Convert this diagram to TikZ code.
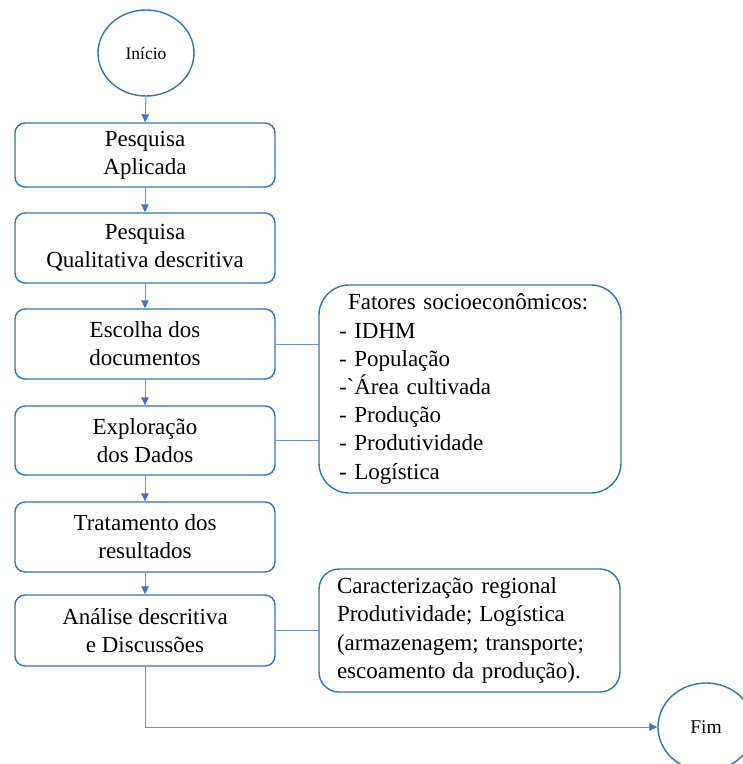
\documentclass[tikz,border=0pt]{standalone}
\usepackage{fontspec}
\setmainfont{Liberation Serif}
\newfontfamily\rawserif{Liberation Serif}
\usetikzlibrary{shapes.geometric,arrows.meta}
\definecolor{boxblue}{HTML}{2E75B6}
\definecolor{arrowblue}{HTML}{4472C4}
\definecolor{lineblue}{HTML}{6A8FD3}
\tikzset{
  stepbox/.style={draw=boxblue, line width=1.4pt, rounded corners=10pt, rectangle,
    minimum width=260pt, inner sep=0pt, align=center,
    font=\fontsize{23}{28}\selectfont},
  termnode/.style={draw=boxblue, line width=1.4pt, ellipse, inner sep=0pt,
    minimum width=96pt},
  notebox/.style={draw=boxblue, line width=1.4pt, rectangle, align=left,
    font=\fontsize{23}{28.2}\selectfont, anchor=center},
  flow/.style={draw=lineblue, line width=1pt,
    -{Triangle[length=8pt,width=7.5pt,color=arrowblue]}},
  link/.style={draw=lineblue, line width=1pt}
}
\begin{document}
\begin{tikzpicture}[x=1pt,y=-1pt]
\useasboundingbox (0,0) rectangle (743,764);
\node[termnode, minimum height=86pt, font=\fontsize{17.5}{20}\selectfont] (ini) at (146,53) {Início};
\node[stepbox, minimum height=64pt] (b1) at (145,155) {Pesquisa\\Aplicada};
\node[stepbox, minimum height=70pt] (b2) at (145,248) {Pesquisa\\Qualitativa descritiva};
\node[stepbox, minimum height=70pt] (b3) at (145,344) {Escolha dos\\documentos};
\node[stepbox, minimum height=69pt] (b4) at (145,440.5) {Exploração\\dos Dados};
\node[stepbox, minimum height=70pt] (b5) at (145,537) {Tratamento dos\\resultados};
\node[stepbox, minimum height=71pt] (b6) at (145,630.5) {Análise descritiva\\e Discussões};
\node[notebox, rounded corners=30pt, minimum width=302pt, minimum height=208pt,
  text width=262pt, inner xsep=20pt, inner ysep=0pt] (fat) at (470,389)
  {\hspace*{9pt}Fatores socioeconômicos:\\- IDHM\\- População\\-{\rawserif`}Área cultivada\\- Produção\\- Produtividade\\- Logística};
\node[notebox, rounded corners=20pt, minimum width=301pt, minimum height=123pt,
  text width=265pt, inner xsep=18pt, inner ysep=0pt] (car) at (469.5,630.5)
  {Caracterização\hspace{0.35em}regional\\Produtividade;\hspace{0.3em}Logística\\(armazenagem;\hspace{0.3em}transporte;\\escoamento\hspace{0.3em}da produção).};
\node[termnode, minimum height=88pt, font=\fontsize{19.5}{22}\selectfont] (fim) at (706,727) {Fim};
\coordinate (turn) at (145,727);
\draw[flow] (ini.south) -- (b1.north);
\draw[flow] (b1.south) -- (b2.north);
\draw[flow] (b2.south) -- (b3.north);
\draw[flow] (b3.south) -- (b4.north);
\draw[flow] (b4.south) -- (b5.north);
\draw[flow] (b5.south) -- (b6.north);
\draw[flow] (b6.south) -- (turn) -- (fim.west);
\draw[link] (b3.east) -- (b3.east -| fat.west);
\draw[link] (b4.east) -- (b4.east -| fat.west);
\draw[link] (b6.east) -- (b6.east -| car.west);
\end{tikzpicture}
\end{document}
